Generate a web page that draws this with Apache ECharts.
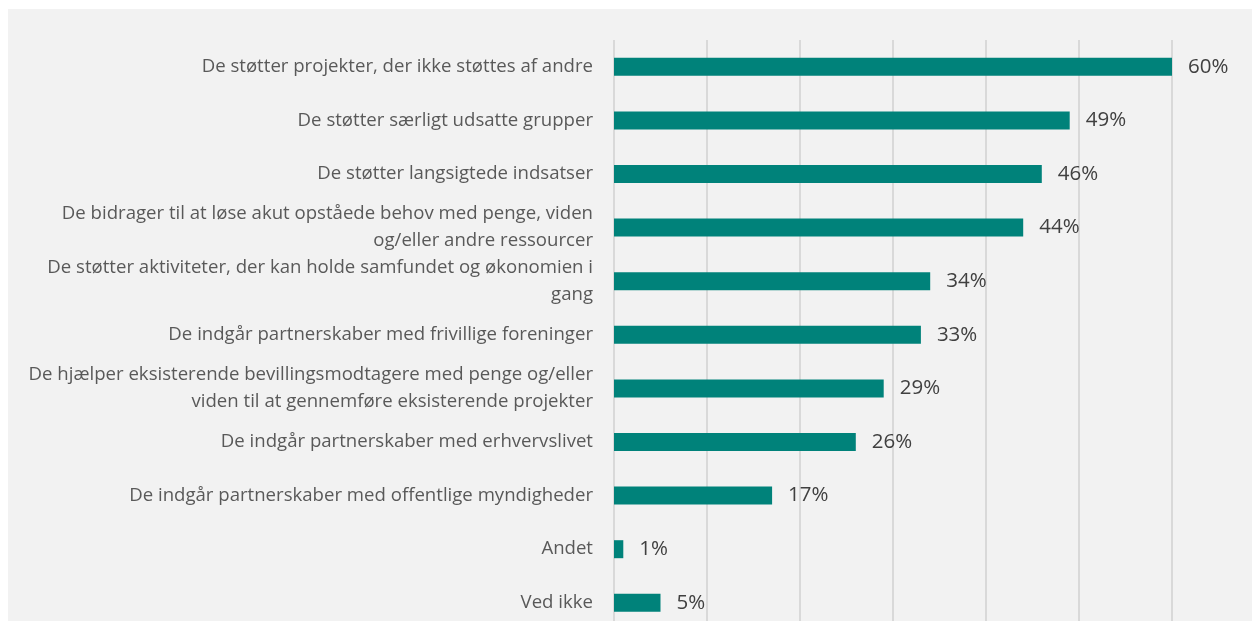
<!DOCTYPE html>
<html>
<head>
<meta charset="utf-8">
<script src="https://cdn.jsdelivr.net/npm/echarts@6/dist/echarts.min.js"></script>
<style>
    html, body { margin: 0; padding: 0; background: #ffffff; }
    #frame { position: absolute; left: 8px; top: 9px; width: 1244px; height: 612px; background: #f2f2f2; }
    #main { width: 1244px; height: 612px; }
</style>
</head>
<body>
<div id="frame"><div id="main"></div></div>
<script>
    // kategorier (top -> bund)
    var categories = [
        'De støtter projekter, der ikke støttes af andre',
        'De støtter særligt udsatte grupper',
        'De støtter langsigtede indsatser',
        'De bidrager til at løse akut opståede behov med penge, viden\nog/eller andre ressourcer',
        'De støtter aktiviteter, der kan holde samfundet og økonomien i\ngang',
        'De indgår partnerskaber med frivillige foreninger',
        'De hjælper eksisterende bevillingsmodtagere med penge og/eller\nviden til at gennemføre eksisterende projekter',
        'De indgår partnerskaber med erhvervslivet',
        'De indgår partnerskaber med offentlige myndigheder',
        'Andet',
        'Ved ikke'
    ];
    // andel i procent
    var values = [60, 49, 46, 44, 34, 33, 29, 26, 17, 1, 5];

    var chart = echarts.init(document.getElementById('main'));
    var option = {
        animation: false,
        backgroundColor: 'transparent',
        textStyle: { fontFamily: 'Open Sans' },
        grid: {
            left: 606,
            top: 31,
            width: 558,
            height: 589.6,
            outerBoundsMode: 'none',
            containLabel: false
        },
        xAxis: {
            type: 'value',
            min: 0,
            max: 60,
            interval: 10,
            axisLabel: { show: false },
            axisLine: { show: false },
            axisTick: { show: false },
            splitLine: { lineStyle: { color: '#d9d9d9', width: 2 } }
        },
        yAxis: {
            type: 'category',
            inverse: true,
            data: categories,
            axisLine: { show: false },
            axisTick: { show: false },
            axisLabel: {
                margin: 21,
                color: '#595959',
                fontSize: 18.6,
                lineHeight: 27,
                align: 'right'
            }
        },
        series: [
            {
                type: 'bar',
                data: values,
                barWidth: 18,
                itemStyle: { color: '#00827a' },
                label: {
                    show: true,
                    position: 'right',
                    distance: 16,
                    color: '#404040',
                    fontSize: 20.5,
                    formatter: function (p) {
                        return p.value + '%';
                    }
                }
            }
        ]
    };
    chart.setOption(option);
</script>
</body>
</html>
